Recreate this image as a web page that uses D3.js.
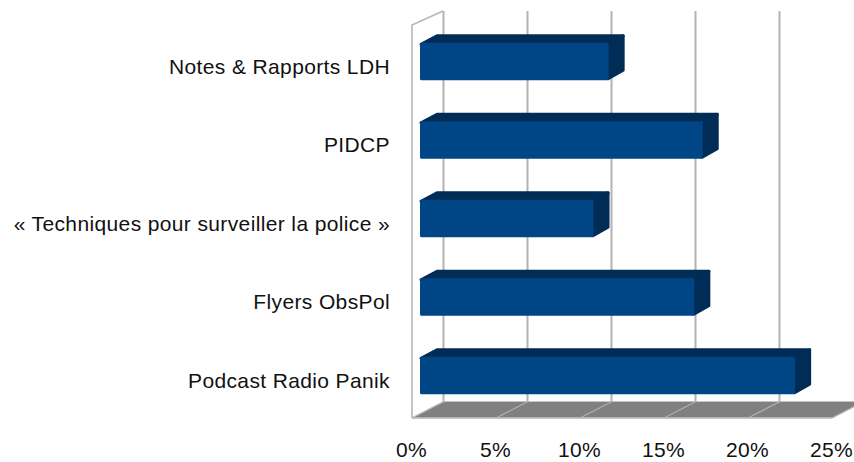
<!DOCTYPE html>
<html><head><meta charset="utf-8">
<script src="https://cdn.jsdelivr.net/npm/d3@7/dist/d3.min.js"></script>
<style>html,body{margin:0;padding:0;background:#fff;overflow:hidden}svg{display:block}text{font-family:"Liberation Sans",Arial,sans-serif;font-size:21px;letter-spacing:0.37px;fill:#111}</style>
</head><body><svg id="c" width="854" height="462"></svg>
<script>
const categories = ["Notes & Rapports LDH","PIDCP","« Techniques pour surveiller la police »","Flyers ObsPol","Podcast Radio Panik"];
const values = [11.2,16.8,10.3,16.3,22.3];
const ticks = [0,5,10,15,20,25];
const svg = d3.select("#c");
const x = d3.scaleLinear().domain([0,25]).range([412,832]);
const y = d3.scalePoint().domain(categories).range([61.5,375.5]);
const top0=25, bottom0=418, depthX=32, depthY=16.5, grid="#b4b2b2";
const barH=37.5, bdX=16, bdY=8.5, barOffX=8, axisColor="#b6b6bc";
// floor
svg.append("polygon").attr("fill","#808080").attr("stroke","#c4c4c4").attr("stroke-width",1)
 .attr("points",[[x(0),bottom0],[x(25),bottom0],[x(25)+depthX,bottom0-depthY],[x(0)+depthX,bottom0-depthY]].join(" "));
svg.selectAll("line.f").data(ticks).join("line").attr("class","f")
 .attr("x1",d=>x(d)).attr("y1",bottom0).attr("x2",d=>x(d)+depthX).attr("y2",bottom0-depthY)
 .attr("stroke","#b0b0b0").attr("stroke-width",1.2);
// back grid
svg.selectAll("line.g").data(ticks).join("line").attr("class","g")
 .attr("x1",d=>x(d)+depthX-0.5).attr("x2",d=>x(d)+depthX-0.5).attr("y1",top0-14).attr("y2",bottom0-depthY)
 .attr("stroke",grid).attr("stroke-width",2);
// wall edge
svg.append("path").attr("fill","none").attr("stroke",axisColor).attr("stroke-width",1.6)
 .attr("d",`M${x(0)},${bottom0}V${top0}L${x(0)+depthX-1},${top0-14}`);
svg.append("line").attr("x1",x(0)).attr("x2",x(25)).attr("y1",bottom0).attr("y2",bottom0).attr("stroke","#bdbdbd").attr("stroke-width",1.5);
// bars
const g = svg.selectAll("g.b").data(categories).join("g").attr("class","b");
const L=x(0)+barOffX;
const xe=(i)=>L+x(values[i])-x(0);
const face=(sel,pts,col)=>sel.append("polygon").attr("points",pts.join(" ")).attr("fill",col).attr("stroke",col).attr("stroke-width",3).attr("stroke-linejoin","round");
g.each(function(c,i){
  const s=d3.select(this), t=y(c)-barH/2+1.5, b=y(c)+barH/2-1.5, r=xe(i);
  face(s,[[L+1,t],[r,t],[r+bdX-1,t-bdY],[L+bdX+1,t-bdY]],"#002c56");
  face(s,[[r,t],[r+bdX-1,t-bdY],[r+bdX-1,b-bdY],[r,b]],"#002c56");
  face(s,[[L+1.5,t],[r-1,t],[r-1,b],[L+1.5,b]],"#004586");
});
// labels
svg.selectAll("text.c").data(categories).join("text").attr("class","c")
 .attr("x",390).attr("y",d=>y(d)+5).attr("dy","0.35em").attr("text-anchor","end").text(d=>d);
svg.selectAll("text.t").data(ticks).join("text").attr("class","t")
 .attr("x",d=>x(d)-0.5).attr("y",449.5).attr("dy","0.35em").attr("text-anchor","middle").text(d=>d+"%");
</script></body></html>
